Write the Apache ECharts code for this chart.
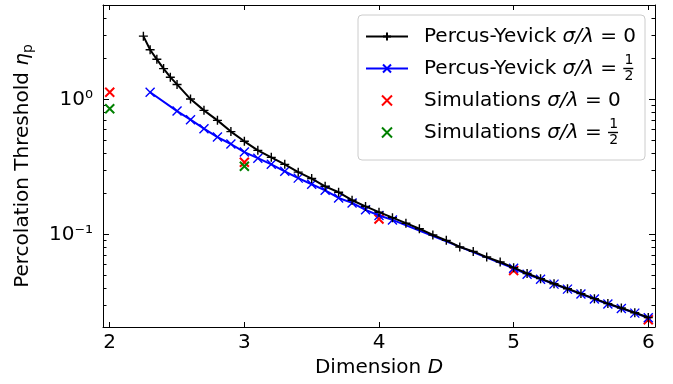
<!DOCTYPE html>
<html><head><meta charset="utf-8">
<script src="https://cdn.jsdelivr.net/npm/echarts@6/dist/echarts.min.js"></script>
<style>html,body{margin:0;padding:0;background:#fff}#c{width:673px;height:384px}</style>
</head><body><div id="c"></div>
<script>
// Percus-Yevick, sigma/lambda = 0
const pyZeroD = [2.25,2.3,2.35,2.4,2.45,2.5,2.6,2.7,2.8,2.9,3.0,3.1,3.2,3.3,3.4,3.5,3.6,3.7,3.8,3.9,4.0,4.1,4.2,4.3,4.4,4.5,4.6,4.7,4.8,4.9,5.0,5.1,5.2,5.3,5.4,5.5,5.6,5.7,5.8,5.9,6.0];
const pyZeroEta = [2.94,2.33,1.98,1.69,1.46,1.29,1.005,0.829,0.699,0.577,0.489,0.419,0.372,0.330,0.289,0.259,0.227,0.205,0.179,0.161,0.146,0.133,0.121,0.110,0.099,0.0903,0.0806,0.0748,0.0679,0.0624,0.0567,0.0513,0.0470,0.0431,0.0396,0.0364,0.0334,0.0307,0.0285,0.0263,0.0242];
// Percus-Yevick, sigma/lambda = 1/2
const pyHalfD = [2.3,2.5,2.6,2.7,2.8,2.9,3.0,3.1,3.2,3.3,3.4,3.5,3.6,3.7,3.8,3.9,4.0,4.1,5.0,5.1,5.2,5.3,5.4,5.5,5.6,5.7,5.8,5.9,6.0];
const pyHalfEta = [1.13,0.819,0.707,0.607,0.526,0.467,0.407,0.367,0.330,0.293,0.261,0.235,0.212,0.186,0.171,0.152,0.138,0.128,0.0560,0.0506,0.0466,0.0428,0.0393,0.0361,0.0332,0.0305,0.0283,0.0261,0.0241];
// Simulations
const simZeroD = [2,3,4,5,6];
const simZeroEta = [1.128,0.342,0.130,0.054,0.0233];
const simHalfD = [2,3];
const simHalfEta = [0.853,0.320];
// ticks
const xTicks = [2,3,4,5,6];
const yMajorTicks = [0.1,1];
const yMinorTicks = [0.03,0.04,0.05,0.06,0.07,0.08,0.09,0.2,0.3,0.4,0.5,0.6,0.7,0.8,0.9,2,3,4];

const FONT = 'DejaVu Sans';
const pair = (xs, ys) => xs.map((x, i) => [x, ys[i]]);
const PLUS = 'path://M0,5L10,5M5,0L5,10';
const CROSS = 'path://M0,0L10,10M10,0L0,10';
const X_MIN = 1.95, X_MAX = 6.05, Y_MIN = 0.0206, Y_MAX = 5;

const names = ['PY0', 'PYH', 'SIM0', 'SIMH'];
const rich = {
  t: {fontFamily: FONT, fontSize: 20, color: '#000', lineHeight: 30},
  m: {fontFamily: FONT, fontSize: 20, color: '#000', fontStyle: 'italic', lineHeight: 30},
  bar: {width: 10, height: 1.4, backgroundColor: '#000', fontSize: 4, lineHeight: 30},
  n: {fontFamily: FONT, fontSize: 14, color: '#000', width: 0, align: 'right', lineHeight: 15, verticalAlign: 'top'},
  d: {fontFamily: FONT, fontSize: 14, color: '#000', width: 0, align: 'right', lineHeight: 15, verticalAlign: 'bottom'}
};
const legendText = {
  PY0: '{t|Percus-Yevick }{m|σ/λ}{t| = 0}',
  PYH: '{t|Percus-Yevick }{m|σ/λ}{t| = }{bar| }{n|1}{d|2}',
  SIM0: '{t|Simulations }{m|σ/λ}{t| = 0}',
  SIMH: '{t|Simulations }{m|σ/λ}{t| = }{bar| }{n|1}{d|2}'
};

const axisLine = {show: true, onZero: false, lineStyle: {color: '#000', width: 1}};
function xAx(pos, labels) {
  return {
    type: 'value', min: X_MIN, max: X_MAX, position: pos,
    axisLine: axisLine,
    axisTick: {show: true, inside: true, length: 5, customValues: xTicks, lineStyle: {color: '#000', width: 1}},
    axisLabel: labels ? {show: true, customValues: xTicks, fontFamily: FONT, fontSize: 20, color: '#000', margin: 6} : {show: false},
    splitLine: {show: false},
    name: labels ? '{a|Dimension }{i|D}' : '',
    nameLocation: 'middle', nameGap: 31,
    nameTextStyle: {rich: {a: {fontFamily: FONT, fontSize: 20, color: '#000'}, i: {fontFamily: FONT, fontSize: 20, color: '#000', fontStyle: 'italic'}}}
  };
}
function yAx(pos, major, labels) {
  return {
    type: 'log', logBase: 10, min: Y_MIN, max: Y_MAX, position: pos,
    axisLine: major ? axisLine : {show: false},
    axisTick: {show: true, inside: true, length: major ? 6 : 3.5, customValues: major ? yMajorTicks : yMinorTicks, lineStyle: {color: '#000', width: 1}},
    axisLabel: labels ? {show: true, customValues: yMajorTicks, fontFamily: FONT, fontSize: 20, color: '#000', margin: 10,
      formatter: v => (Math.abs(v - 1) < 1e-9 ? '10⁰' : '10⁻¹')} : {show: false},
    splitLine: {show: false}, minorTick: {show: false},
    name: labels ? '{a|Percolation Threshold }{i|η}{s|p}' : '',
    nameLocation: 'middle', nameGap: 68, nameRotate: 90,
    nameTextStyle: {rich: {a: {fontFamily: FONT, fontSize: 20, color: '#000'}, i: {fontFamily: FONT, fontSize: 20, color: '#000', fontStyle: 'italic'}, s: {fontFamily: FONT, fontSize: 14, color: '#000', padding: [10, 0, 0, 0]}}}
  };
}

const chart = echarts.init(document.getElementById('c'), null, {renderer: 'canvas'});
chart.setOption({
  animation: false,
  backgroundColor: '#fff',
  grid: {left: 103, right: 18, top: 5, bottom: 57, containLabel: false},
  xAxis: [xAx('bottom', true), xAx('top', false)],
  yAxis: [yAx('left', true, true), yAx('left', false, false), yAx('right', true, false), yAx('right', false, false)],
  legend: {
    left: 358, top: 15, orient: 'vertical', itemGap: 7, itemWidth: 42, itemHeight: 10,
    padding: [11.5, 9, 12.5, 7],
    backgroundColor: 'rgba(255,255,255,0.85)', borderColor: '#cccccc', borderWidth: 1, borderRadius: 4,
    selectedMode: false, data: names,
    formatter: n => legendText[n],
    textStyle: {padding: [0, 0, 0, 11], rich: rich}
  },
  series: [
    {name: 'SIM0', type: 'scatter', data: pair(simZeroD, simZeroEta), symbol: CROSS, symbolSize: 9, z: 2,
      itemStyle: {color: 'none', borderColor: '#ff0000', borderWidth: 2, opacity: 1}},
    {name: 'SIMH', type: 'scatter', data: pair(simHalfD, simHalfEta), symbol: CROSS, symbolSize: 9, z: 3,
      itemStyle: {color: 'none', borderColor: '#008000', borderWidth: 2, opacity: 1}},
    {name: 'PYH', type: 'line', data: pair(pyHalfD, pyHalfEta), symbol: CROSS, symbolSize: 9, showAllSymbol: true, z: 4,
      lineStyle: {color: '#0000ff', width: 2}, itemStyle: {color: 'none', borderColor: '#0000ff', borderWidth: 1.4}},
    {name: 'PY0', type: 'line', data: pair(pyZeroD, pyZeroEta), symbol: PLUS, symbolSize: 9, showAllSymbol: true, z: 5,
      lineStyle: {color: '#000000', width: 2}, itemStyle: {color: 'none', borderColor: '#000000', borderWidth: 1.4}}
  ]
});
</script></body></html>
